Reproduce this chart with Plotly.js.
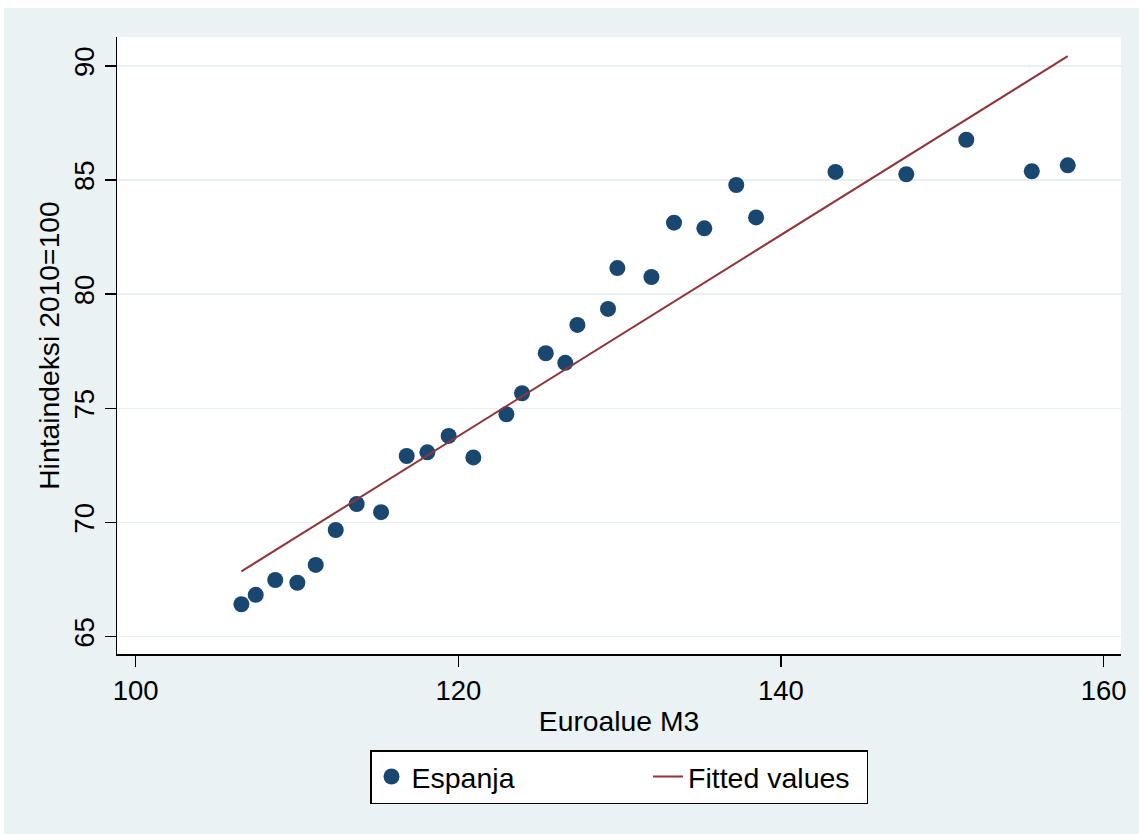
<!DOCTYPE html>
<html>
<head>
<meta charset="utf-8">
<script src="https://cdn.plot.ly/plotly-3.0.1.min.js"></script>
<style>
html, body { margin: 0; padding: 0; background: #ffffff; }
#chart { position: absolute; left: 4px; top: 8px; width: 1135px; height: 826px; }
</style>
</head>
<body>
<div id="chart"></div>
<script>
// Euroalue M3 (x) vs Espanja hintaindeksi 2010=100 (y)
const m3 = [106.55, 107.44, 108.65, 110.02, 111.16, 112.40, 113.70, 115.21, 116.80, 118.08,
            119.40, 120.93, 122.98, 123.95, 125.42, 126.63, 127.38, 129.28, 129.86, 131.97,
            133.37, 135.25, 137.23, 138.46, 143.38, 147.77, 151.49, 155.55, 157.78];
const espanja = [66.42, 66.83, 67.48, 67.36, 68.14, 69.67, 70.81, 70.45, 72.91, 73.07,
                 73.79, 72.85, 74.74, 75.66, 77.41, 76.99, 78.65, 79.35, 81.14, 80.75,
                 83.13, 82.88, 84.78, 83.36, 85.35, 85.25, 86.76, 85.38, 85.64];
// Fitted values line (endpoints)
const fitX = [106.55, 157.78];
const fitY = [67.86, 90.42];

const xTicks = [100, 120, 140, 160];
const yTicks = [65, 70, 75, 80, 85, 90];

const FONT = '"Liberation Sans", Arial, Helvetica, sans-serif';

const traces = [
  {
    type: 'scatter', mode: 'markers', name: 'Espanja',
    x: m3, y: espanja,
    marker: { color: '#1a476f', size: 16, line: { width: 0 } },
    legend: 'legend'
  },
  {
    type: 'scatter', mode: 'lines', name: 'Fitted values',
    x: fitX, y: fitY,
    line: { color: '#90353b', width: 2 },
    legend: 'legend2'
  }
];

const legendFont = { family: FONT, size: 28.5, color: '#000000' };

const layout = {
  width: 1135, height: 826,
  paper_bgcolor: '#eaf2f3',
  plot_bgcolor: '#ffffff',
  margin: { l: 113, r: 18, t: 29, b: 180 },
  font: { family: FONT, color: '#000000', size: 27.5 },
  showlegend: true,
  legend: {
    orientation: 'h',
    x: 0.5, xanchor: 'center', xref: 'paper',
    y: -0.1556, yanchor: 'top', yref: 'paper',
    bgcolor: '#ffffff', bordercolor: '#000000', borderwidth: 1.5,
    font: legendFont,
    entrywidth: 450
  },
  legend2: {
    orientation: 'h',
    x: 0.5289, xanchor: 'left', xref: 'paper',
    y: -0.1580, yanchor: 'top', yref: 'paper',
    bgcolor: 'rgba(0,0,0,0)', borderwidth: 0,
    font: legendFont
  },
  xaxis: {
    range: [98.84, 161.08],
    tickvals: xTicks, ticktext: xTicks.map(String),
    showgrid: false, zeroline: false,
    showline: true, linecolor: '#000000', linewidth: 1.5,
    ticks: 'outside', ticklen: 11, tickwidth: 1.5, tickcolor: '#000000',
    tickfont: { family: FONT, size: 27.5, color: '#000000' },
    title: { text: 'Euroalue M3', font: { family: FONT, size: 28.3, color: '#000000' }, standoff: 6 }
  },
  yaxis: {
    range: [64.24, 91.26],
    tickvals: yTicks, ticktext: yTicks.map(String),
    tickangle: -90,
    showgrid: true, gridcolor: '#e6eff1', gridwidth: 1.5,
    zeroline: false,
    showline: true, linecolor: '#000000', linewidth: 1.5,
    ticks: 'outside', ticklen: 11, tickwidth: 1.5, tickcolor: '#000000',
    tickfont: { family: FONT, size: 27.5, color: '#000000' },
    title: { text: 'Hintaindeksi 2010=100', font: { family: FONT, size: 28.3, color: '#000000' }, standoff: 0 }
  }
};

Plotly.newPlot('chart', traces, layout, { displayModeBar: false, staticPlot: true });
</script>
</body>
</html>
